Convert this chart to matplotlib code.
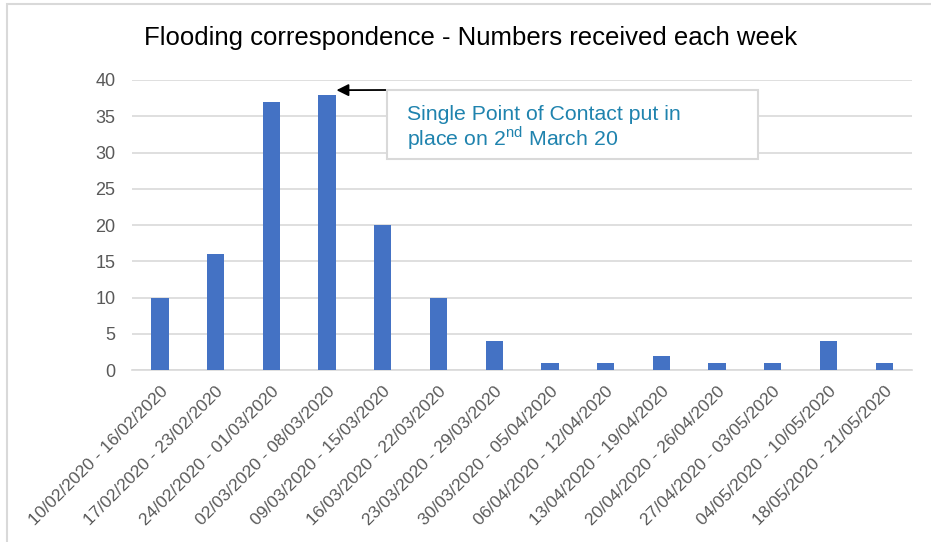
import matplotlib
matplotlib.use("Agg")
from matplotlib import pyplot as plt
from matplotlib.patches import Rectangle

# weekly data
weeks = ['10/02/2020 - 16/02/2020', '17/02/2020 - 23/02/2020', '24/02/2020 - 01/03/2020',
         '02/03/2020 - 08/03/2020', '09/03/2020 - 15/03/2020', '16/03/2020 - 22/03/2020',
         '23/03/2020 - 29/03/2020', '30/03/2020 - 05/04/2020', '06/04/2020 - 12/04/2020',
         '13/04/2020 - 19/04/2020', '20/04/2020 - 26/04/2020', '27/04/2020 - 03/05/2020',
         '04/05/2020 - 10/05/2020', '18/05/2020 - 21/05/2020']
counts = [10, 16, 37, 38, 20, 10, 4, 1, 1, 2, 1, 1, 4, 1]

plt.rcParams['font.family'] = ['Liberation Sans', 'DejaVu Sans']

fig = plt.figure(figsize=(9.31, 5.42), dpi=100)
ax = fig.add_axes([0.1418, 0.3173, 0.8378, 0.5351])

x = list(range(len(weeks)))
ax.bar(x, counts, width=0.31, color='#4472C4', zorder=3)

ax.set_xlim(-0.5, len(weeks) - 0.5)
ax.set_ylim(0, 40)
ax.set_yticks(range(0, 41, 5))
ax.yaxis.grid(True, color='#D9D9D9', linewidth=1.2, zorder=0)
for s in ['top', 'right', 'left']:
    ax.spines[s].set_visible(False)
ax.spines['bottom'].set_color('#D9D9D9')
ax.spines['bottom'].set_linewidth(1.2)
ax.tick_params(axis='both', length=0, colors='#595959', labelsize=12.5)
ax.tick_params(axis='y', pad=12, labelsize=13)
ax.tick_params(axis='x', pad=10)
ax.set_xticks(x)
ax.set_xticklabels(weeks, rotation=45, ha='right', rotation_mode='anchor')

fig.text(0.505, 0.93, 'Flooding correspondence - Numbers received each week',
         ha='center', va='center', fontsize=18.5, color='black')

# outer chart frame
fig.patches.append(Rectangle((7 / 931, -0.1), 1.2, 1 - 4 / 542 + 0.1, transform=fig.transFigure,
                             fill=False, edgecolor='#D9D9D9', linewidth=1.5))

# annotation box with arrow
box_l, box_b, box_r, box_t = 387 / 931, 1 - 159 / 542, 758 / 931, 1 - 90 / 542
fig.patches.append(Rectangle((box_l, box_b), box_r - box_l, box_t - box_b,
                             transform=fig.transFigure, fill=True, facecolor='white',
                             edgecolor='#D9D9D9', linewidth=1.5, zorder=5))
fig.text(407 / 931, 1 - 114 / 542, 'Single Point of Contact put in',
         fontsize=15.3, color='#1F83AE', va='center', zorder=6)
fig.text(407 / 931, 1 - 138 / 542, r'place on 2$^{\mathregular{nd}}$ March 20',
         fontsize=15.3, color='#1F83AE', va='center', zorder=6)
ax.annotate('', xy=(3.17, 38.6), xycoords='data',
            xytext=(box_l, box_t), textcoords='figure fraction',
            arrowprops=dict(arrowstyle='-|>', color='black', lw=1.3,
                            mutation_scale=18, shrinkA=0, shrinkB=0), zorder=7)

fig.savefig('out.png', dpi=100)
